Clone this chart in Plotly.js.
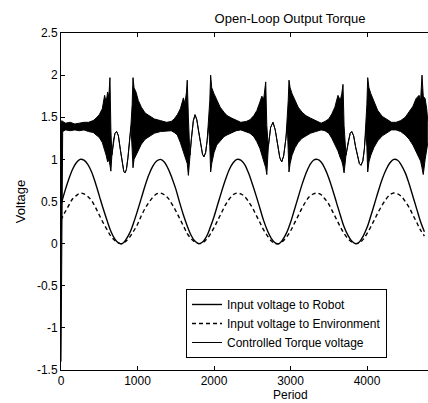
<!DOCTYPE html>
<html>
<head>
<meta charset="utf-8">
<script src="https://cdn.plot.ly/plotly-3.0.1.min.js"></script>
<style>html,body{margin:0;padding:0;background:#fff}#chart{width:428px;height:403px}</style>
</head>
<body>
<div id="chart"></div>
<script>
// Sample positions for the two input voltages (every 50 periods, 0..4750)
const inputStep = 50;
const robotVoltage = [0.46,0.62,0.76,0.88,0.96,1.00,0.99,0.94,0.85,0.72,0.57,0.42,0.28,0.15,0.06,0.01,
  0.00,0.05,0.13,0.25,0.39,0.54,0.69,0.82,0.92,0.98,1.00,0.97,0.89,0.78,0.65,0.49,0.34,0.21,0.10,0.03,
  0.00,0.02,0.08,0.19,0.32,0.47,0.62,0.76,0.88,0.96,1.00,0.99,0.94,0.84,0.71,0.57,0.42,0.27,0.15,0.06,
  0.01,0.00,0.05,0.13,0.25,0.40,0.55,0.70,0.83,0.93,0.99,1.00,0.97,0.89,0.78,0.64,0.49,0.34,0.20,0.10,
  0.03,0.00,0.02,0.09,0.19,0.33,0.48,0.63,0.77,0.88,0.96,1.00,0.99,0.93,0.84,0.71,0.56,0.41,0.26,0.14];
const envVoltage = [0.28,0.37,0.45,0.53,0.57,0.60,0.59,0.56,0.51,0.43,0.34,0.25,0.17,0.09,0.04,0.01,
  0.00,0.03,0.08,0.15,0.23,0.33,0.42,0.49,0.55,0.59,0.60,0.58,0.54,0.47,0.39,0.30,0.21,0.12,0.06,0.02,
  0.00,0.01,0.05,0.11,0.19,0.28,0.37,0.46,0.53,0.58,0.60,0.59,0.56,0.50,0.43,0.34,0.25,0.16,0.09,0.03,
  0.00,0.00,0.03,0.08,0.15,0.24,0.33,0.42,0.50,0.56,0.59,0.60,0.58,0.53,0.47,0.38,0.29,0.20,0.12,0.06,
  0.02,0.00,0.01,0.05,0.12,0.20,0.29,0.38,0.46,0.53,0.58,0.60,0.59,0.56,0.50,0.43,0.34,0.25,0.16,0.09];

// Controlled torque voltage: read as upper / lower envelope of the dense oscillation
const torqueX = [0,6,12,22,60,120,180,240,300,360,420,460,500,540,570,590,610,625,640,652,
  665,685,705,728,750,775,800,820,837,855,875,895,915,930,941,955,980,1010,1050,1100,1160,1220,1300,1380,
  1440,1480,1520,1560,1600,1620,1640,1650,1665,1685,1705,1730,1752,1775,1800,1825,1850,1869,1890,1910,1930,
  1945,1956,1970,2000,2035,2080,2130,2170,2230,2290,2350,
  2420,2470,2520,2560,2600,2625,2650,2676,2690,2710,2740,2771,2800,2830,2860,2885,2910,2940,2958,
  2970,2980,2995,3020,3060,3100,3150,3200,3260,3330,3400,
  3450,3500,3540,3580,3620,3650,3670,3686,3700,3725,3752,3780,3800,3825,3850,3875,3900,3921,3945,3965,3985,
  3998,4009,4025,4050,4090,4140,4200,4260,4320,4380,
  4440,4500,4550,4600,4640,4680,4700,4719,4735,4760,4780,4795];
const torqueUpper = [1.42,1.45,1.46,1.45,1.43,1.44,1.42,1.43,1.44,1.44,1.46,1.49,1.53,1.60,1.76,1.68,1.80,1.74,1.97,1.35,
  1.05,1.22,1.31,1.33,1.28,1.12,0.95,0.86,0.84,0.88,1.02,1.20,1.42,1.65,1.97,1.85,1.80,1.70,1.62,1.55,1.51,1.48,1.46,1.44,
  1.45,1.48,1.53,1.60,1.73,1.66,1.80,1.94,1.50,1.05,1.25,1.46,1.53,1.47,1.32,1.17,1.06,1.03,1.08,1.22,1.48,
  1.70,2.00,1.85,1.78,1.70,1.62,1.56,1.52,1.49,1.46,1.44,
  1.45,1.47,1.52,1.58,1.68,1.75,1.72,1.92,1.40,1.15,1.38,1.44,1.35,1.16,1.02,0.97,1.04,1.25,1.48,
  1.70,1.94,1.85,1.78,1.70,1.62,1.56,1.52,1.49,1.46,1.43,
  1.45,1.48,1.54,1.62,1.76,1.70,1.78,1.89,1.40,1.05,1.20,1.31,1.33,1.28,1.15,1.03,0.95,0.93,0.98,1.12,1.38,
  1.65,1.97,1.85,1.78,1.68,1.58,1.51,1.47,1.44,1.44,
  1.46,1.50,1.56,1.63,1.72,1.76,1.70,2.00,1.75,1.72,1.60,1.45];
const torqueLower = [-1.40,-0.75,0.60,1.33,1.35,1.34,1.35,1.34,1.35,1.33,1.32,1.29,1.26,1.20,1.12,1.05,0.97,1.00,0.93,0.86,
  1.05,1.22,1.31,1.33,1.28,1.12,0.95,0.86,0.84,0.88,1.02,1.20,1.38,1.12,0.90,1.00,1.05,1.12,1.18,1.24,1.28,1.31,1.33,1.34,
  1.34,1.32,1.29,1.20,1.10,1.03,1.00,0.95,0.81,1.05,1.25,1.46,1.53,1.47,1.32,1.17,1.06,1.03,1.08,1.22,1.40,
  1.15,0.85,0.95,1.08,1.17,1.22,1.27,1.29,1.32,1.34,1.35,
  1.33,1.31,1.27,1.21,1.13,1.05,1.00,0.90,0.82,1.15,1.38,1.44,1.35,1.16,1.02,0.97,1.04,1.25,1.40,
  1.10,0.85,0.95,1.05,1.14,1.20,1.25,1.28,1.31,1.33,1.35,
  1.34,1.31,1.25,1.18,1.10,1.02,0.98,0.92,0.84,1.05,1.20,1.31,1.33,1.28,1.15,1.03,0.95,0.93,0.98,1.12,1.34,
  1.15,0.85,0.97,1.05,1.14,1.22,1.28,1.32,1.35,1.35,
  1.33,1.29,1.24,1.17,1.10,1.02,0.98,0.90,0.82,1.00,1.15,1.20];

const xTicks = [0,1000,2000,3000,4000];
const xTickText = ['0','1000','2000','3000','4000'];
const yTicks = [-1.5,-1,-0.5,0,0.5,1,1.5,2,2.5];
const yTickText = ['-1.5','-1','-0.5','0','0.5','1','1.5','2','2.5'];

const inputX = robotVoltage.map((_, i) => i * inputStep);

const traces = [
  {x: inputX, y: robotVoltage, type: 'scatter', mode: 'lines', name: 'Input voltage to Robot',
   line: {color: '#000', width: 1.4, shape: 'spline'}},
  {x: inputX, y: envVoltage, type: 'scatter', mode: 'lines', name: 'Input voltage to Environment',
   line: {color: '#000', width: 1.4, dash: '4px,3px', shape: 'spline'}},
  {x: torqueX, y: torqueUpper, type: 'scatter', mode: 'lines', name: 'Controlled Torque voltage',
   line: {color: '#000', width: 1}},
  {x: torqueX, y: torqueLower, type: 'scatter', mode: 'lines', name: 'Controlled Torque voltage',
   showlegend: false, fill: 'tonexty', fillcolor: '#000', line: {color: '#000', width: 1}}
];

const font = {family: '"Liberation Sans", Arial, Helvetica, sans-serif', color: '#000'};

const layout = {
  width: 428, height: 403,
  margin: {l: 61, r: 0, t: 33, b: 33},
  paper_bgcolor: '#fff', plot_bgcolor: '#fff',
  font: Object.assign({size: 12}, font),
  showlegend: true,
  title: {text: 'Open-Loop Output Torque', x: 0.624, xref: 'paper', xanchor: 'center',
          y: 0.955, yref: 'container', yanchor: 'middle', font: Object.assign({size: 13}, font)},
  xaxis: {range: [0, 4797], tickvals: xTicks, ticktext: xTickText, ticks: 'inside', ticklen: 4,
          tickcolor: '#000', showline: true, linecolor: '#000', linewidth: 1, mirror: 'ticks',
          showgrid: false, zeroline: false, tickfont: Object.assign({size: 12}, font)},
  yaxis: {range: [-1.5, 2.5], tickvals: yTicks, ticktext: yTickText, ticks: 'inside', ticklen: 4,
          tickcolor: '#000', showline: true, linecolor: '#000', linewidth: 1, mirror: false,
          showgrid: false, zeroline: false, tickfont: Object.assign({size: 12}, font),
          title: {text: 'Voltage', standoff: 8, font: Object.assign({size: 13}, font)}},
  legend: {x: 0.3406, y: 0.2404, xanchor: 'left', yanchor: 'top', bgcolor: '#fff',
           traceorder: 'normal', bordercolor: '#000', borderwidth: 1,
           font: Object.assign({size: 12}, font)},
  annotations: [{text: 'Period', xref: 'paper', yref: 'paper', x: 0.624, y: -0.074,
                 xanchor: 'center', yanchor: 'middle', showarrow: false,
                 font: Object.assign({size: 12}, font)}]
};

Plotly.newPlot('chart', traces, layout, {staticPlot: true, displayModeBar: false});
</script>
</body>
</html>
